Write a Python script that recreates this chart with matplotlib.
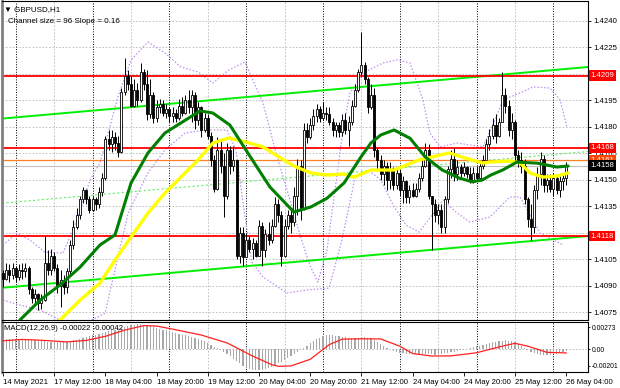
import matplotlib
matplotlib.use("Agg")
import matplotlib.pyplot as plt
import matplotlib.transforms as mtransforms
import numpy as np

# ---------------- data (GBPUSD H1) ----------------
first_open = 1.4097
close = [1.4094, 1.4099, 1.4096, 1.4100, 1.4095, 1.4099, 1.4098, 1.4100, 1.4088, 1.4083,
         1.4085, 1.4080, 1.4082, 1.4103, 1.4099, 1.4107, 1.4100, 1.4090, 1.4093, 1.4089,
         1.4098, 1.4113, 1.4123, 1.4130, 1.4139, 1.4144, 1.4139, 1.4133, 1.4139, 1.4136,
         1.4143, 1.4151, 1.4173, 1.4170, 1.4174, 1.4171, 1.4166, 1.4200, 1.4209, 1.4204,
         1.4192, 1.4201, 1.4195, 1.4211, 1.4204, 1.4187, 1.4198, 1.4185, 1.4191, 1.4193,
         1.4188, 1.4190, 1.4186, 1.4188, 1.4185, 1.4192, 1.4188, 1.4195, 1.4191, 1.4198,
         1.4184, 1.4191, 1.4178, 1.4185, 1.4175, 1.4161, 1.4145, 1.4167, 1.4158, 1.4141,
         1.4167, 1.4158, 1.4161, 1.4107, 1.4120, 1.4106, 1.4116, 1.4111, 1.4114, 1.4107,
         1.4124, 1.4110, 1.4119, 1.4116, 1.4124, 1.4136, 1.4130, 1.4107, 1.4124, 1.4130,
         1.4126, 1.4141, 1.4158, 1.4134, 1.4178, 1.4174, 1.4181, 1.4186, 1.4190, 1.4185,
         1.4188, 1.4187, 1.4183, 1.4178, 1.4181, 1.4177, 1.4184, 1.4178, 1.4183, 1.4192,
         1.4201, 1.4211, 1.4215, 1.4207, 1.4191, 1.4198, 1.4167, 1.4161, 1.4153, 1.4158,
         1.4150, 1.4156, 1.4147, 1.4154, 1.4144, 1.4149, 1.4140, 1.4144, 1.4141, 1.4145,
         1.4151, 1.4158, 1.4167, 1.4141, 1.4136, 1.4130, 1.4133, 1.4123, 1.4139, 1.4156,
         1.4162, 1.4153, 1.4157, 1.4154, 1.4157, 1.4153, 1.4150, 1.4154, 1.4151, 1.4158,
         1.4161, 1.4170, 1.4175, 1.4181, 1.4175, 1.4183, 1.4198, 1.4192, 1.4178, 1.4183,
         1.4164, 1.4161, 1.4158, 1.4139, 1.4128, 1.4123, 1.4144, 1.4153, 1.4162, 1.4147,
         1.4150, 1.4145, 1.4151, 1.4144, 1.4149, 1.4151, 1.4158]
high = [1.4099, 1.4103, 1.4102, 1.4103, 1.4101, 1.4102, 1.4103, 1.4103, 1.4101, 1.4089,
        1.4088, 1.4086, 1.4085, 1.4118, 1.4110, 1.4111, 1.4109, 1.4102, 1.4099, 1.4096,
        1.4100, 1.4116, 1.4127, 1.4134, 1.4141, 1.4146, 1.4145, 1.4141, 1.4141, 1.4140,
        1.4146, 1.4154, 1.4175, 1.4178, 1.4178, 1.4177, 1.4175, 1.4202, 1.4219, 1.4212,
        1.4209, 1.4207, 1.4205, 1.4216, 1.4213, 1.4212, 1.4207, 1.4200, 1.4195, 1.4196,
        1.4195, 1.4193, 1.4191, 1.4191, 1.4190, 1.4196, 1.4197, 1.4198, 1.4201, 1.4201,
        1.4200, 1.4194, 1.4192, 1.4188, 1.4187, 1.4177, 1.4164, 1.4174, 1.4173, 1.4165,
        1.4171, 1.4169, 1.4169, 1.4160, 1.4123, 1.4123, 1.4120, 1.4118, 1.4117, 1.4116,
        1.4127, 1.4126, 1.4122, 1.4126, 1.4128, 1.4140, 1.4139, 1.4132, 1.4128, 1.4133,
        1.4133, 1.4146, 1.4162, 1.4161, 1.4182, 1.4182, 1.4185, 1.4190, 1.4193, 1.4192,
        1.4194, 1.4191, 1.4191, 1.4185, 1.4183, 1.4183, 1.4187, 1.4188, 1.4186, 1.4195,
        1.4204, 1.4213, 1.4234, 1.4217, 1.4208, 1.4204, 1.4202, 1.4168, 1.4164, 1.4161,
        1.4160, 1.4160, 1.4157, 1.4157, 1.4156, 1.4152, 1.4150, 1.4147, 1.4148, 1.4148,
        1.4154, 1.4161, 1.4171, 1.4170, 1.4141, 1.4139, 1.4136, 1.4136, 1.4141, 1.4158,
        1.4167, 1.4168, 1.4161, 1.4159, 1.4160, 1.4158, 1.4157, 1.4157, 1.4158, 1.4160,
        1.4164, 1.4173, 1.4179, 1.4185, 1.4187, 1.4185, 1.4211, 1.4202, 1.4195, 1.4188,
        1.4184, 1.4167, 1.4166, 1.4162, 1.4140, 1.4136, 1.4147, 1.4157, 1.4166, 1.4164,
        1.4153, 1.4153, 1.4154, 1.4152, 1.4152, 1.4154, 1.4160]
low = [1.4089, 1.4093, 1.4092, 1.4094, 1.4092, 1.4093, 1.4094, 1.4095, 1.4085, 1.4080,
       1.4079, 1.4076, 1.4077, 1.4081, 1.4096, 1.4096, 1.4098, 1.4086, 1.4078, 1.4085,
       1.4086, 1.4096, 1.4111, 1.4122, 1.4128, 1.4137, 1.4136, 1.4131, 1.4132, 1.4133,
       1.4134, 1.4141, 1.4150, 1.4167, 1.4166, 1.4167, 1.4163, 1.4165, 1.4198, 1.4201,
       1.4191, 1.4191, 1.4192, 1.4194, 1.4201, 1.4184, 1.4185, 1.4182, 1.4183, 1.4188,
       1.4186, 1.4185, 1.4183, 1.4183, 1.4183, 1.4184, 1.4186, 1.4187, 1.4188, 1.4183,
       1.4179, 1.4181, 1.4174, 1.4177, 1.4173, 1.4158, 1.4143, 1.4144, 1.4154, 1.4129,
       1.4139, 1.4153, 1.4155, 1.4105, 1.4103, 1.4101, 1.4107, 1.4109, 1.4105, 1.4106,
       1.4107, 1.4101, 1.4106, 1.4113, 1.4114, 1.4123, 1.4126, 1.4101, 1.4106, 1.4122,
       1.4120, 1.4124, 1.4130, 1.4127, 1.4133, 1.4171, 1.4173, 1.4178, 1.4183, 1.4183,
       1.4184, 1.4184, 1.4181, 1.4175, 1.4174, 1.4174, 1.4175, 1.4176, 1.4169, 1.4181,
       1.4191, 1.4200, 1.4208, 1.4204, 1.4188, 1.4190, 1.4163, 1.4156, 1.4150, 1.4147,
       1.4144, 1.4145, 1.4144, 1.4145, 1.4141, 1.4137, 1.4137, 1.4137, 1.4140, 1.4140,
       1.4143, 1.4149, 1.4157, 1.4139, 1.4110, 1.4126, 1.4125, 1.4120, 1.4120, 1.4137,
       1.4151, 1.4149, 1.4150, 1.4151, 1.4152, 1.4151, 1.4148, 1.4148, 1.4150, 1.4150,
       1.4156, 1.4160, 1.4167, 1.4173, 1.4171, 1.4174, 1.4183, 1.4188, 1.4175, 1.4173,
       1.4160, 1.4157, 1.4154, 1.4136, 1.4123, 1.4116, 1.4120, 1.4139, 1.4147, 1.4143,
       1.4143, 1.4143, 1.4141, 1.4142, 1.4140, 1.4144, 1.4147]

# moving averages (bar index, price)
ma_green_bar = [5.3, 11.6, 17.8, 24.1, 30.3, 35.0, 40.0, 45.3, 50.6, 55.6, 61.6, 65.6, 70.9,
                75.9, 83.4, 90.9, 96.25, 101.25, 106.6, 111.9, 115.0, 118.1, 122.2, 127.2,
                131.9, 137.2, 142.5, 146.6, 149.7, 152.5, 156.25, 160.6, 166.9, 173.1, 176.6]
ma_green = [1.40705, 1.40818, 1.40903, 1.41005, 1.41130, 1.41187, 1.41481, 1.41652, 1.41765,
            1.41822, 1.41890, 1.41878, 1.41810, 1.41669, 1.41459, 1.41317, 1.41346, 1.41395,
            1.41482, 1.41630, 1.41709, 1.41754, 1.41782, 1.41735, 1.41630, 1.41556, 1.41510,
            1.41488, 1.41498, 1.41527, 1.41556, 1.41600, 1.41594, 1.41572, 1.41578]
ma_yellow_bar = [17.8, 24.1, 30.3, 35.0, 40.0, 45.3, 50.6, 55.6, 60.9, 65.6, 70.6, 75.9, 81.25,
                 86.25, 90.9, 96.25, 101.25, 106.6, 109.7, 115.0, 122.2, 130.0, 134.1, 139.4,
                 144.4, 149.7, 152.2, 158.4, 161.6, 164.7, 168.75, 173.1, 176.6]
ma_yellow = [1.40705, 1.40818, 1.40914, 1.41045, 1.41175, 1.41311, 1.41425, 1.41515, 1.41612,
             1.41708, 1.41737, 1.41714, 1.41686, 1.41629, 1.41578, 1.41538, 1.41527, 1.41532,
             1.41515, 1.41555, 1.41555, 1.41612, 1.41629, 1.41652, 1.41623, 1.41595, 1.41600,
             1.41606, 1.41595, 1.41538, 1.41515, 1.41521, 1.41538]

# dotted violet bands (bar index, price)
band_up_bar = [0.0, 4.4, 8.4, 13.1, 18.75, 23.1, 27.2, 30.3, 35.9, 40.0, 45.3, 50.6, 55.6,
               60.9, 65.6, 70.6, 75.6, 81.25, 85.3, 89.4, 92.8, 95.9, 98.4, 101.25, 103.75,
               106.25, 108.4, 112.5, 118.75, 123.1, 127.2, 131.25, 133.4, 136.6, 141.9,
               150.0, 153.75, 156.25, 161.6, 165.6, 170.9, 174.1, 176.25]
band_up = [1.41130, 1.41198, 1.41158, 1.41090, 1.41084, 1.41272, 1.41498, 1.41595, 1.41969,
           1.42179, 1.42281, 1.42218, 1.42139, 1.42111, 1.42048, 1.42122, 1.42167, 1.41935,
           1.41652, 1.41402, 1.41187, 1.41016, 1.40920, 1.41102, 1.41442, 1.41782, 1.41992,
           1.42105, 1.42162, 1.42179, 1.42162, 1.41952, 1.41765, 1.41686, 1.41708, 1.41686,
           1.41839, 1.41952, 1.41992, 1.42026, 1.42020, 1.41952, 1.41799]
band_dn_bar = [0.0, 5.3, 11.6, 17.8, 24.1, 31.9, 39.1, 45.3, 50.6, 56.9, 63.75, 70.0, 72.8,
               75.3, 77.8, 81.25, 88.75, 95.0, 101.9, 105.9, 110.0, 114.1, 118.1, 121.9,
               125.9, 130.0, 134.1, 137.5, 141.9, 145.9, 152.2, 158.4, 161.6, 167.8, 175.0]
band_dn = [1.40818, 1.40790, 1.40761, 1.40705, 1.40671, 1.40744, 1.41311, 1.41538, 1.41669,
           1.41765, 1.41782, 1.41782, 1.41669, 1.41328, 1.41033, 1.40948, 1.40858, 1.40875,
           1.40886, 1.41158, 1.41510, 1.41555, 1.41498, 1.41357, 1.41243, 1.41203, 1.41300,
           1.41385, 1.41311, 1.41260, 1.41289, 1.41402, 1.41402, 1.41198, 1.41130]

# channel (equidistant) anchors
chan_bar = [0, 176]
chan_upper = [1.41847, 1.42128]
chan_lower = [1.40888, 1.41170]

# horizontal levels
red_levels = [1.4209, 1.4168, 1.4118]
orange_level = 1.4161
bid_level = 1.4158

# MACD(12,26,9) main values in points (1e-5)
macd_pts = [120, 122, 124, 125, 125, 124, 122, 120, 117, 113, 110, 106, 102,
            98, 95, 92, 90, 88, 88, 90,
            95, 102, 110, 120, 130, 140, 150, 160, 170, 180, 190,
            200, 212, 222, 232, 240, 250, 262, 275, 285, 295, 302, 308,
            305, 300, 292, 283, 272, 262, 252, 242,
            232, 222, 212, 202, 192, 182, 172, 162, 152, 140, 128, 116,
            100, 80, 58, 35, 15, -5,
            -30, -55, -80, -110, -140, -170, -195, -215, -232, -245,
            -250, -250, -245, -235, -222, -208,
            -190, -170, -150, -128, -105, -82, -58, -35, -12,
            15, 45, 75, 100, 125, 145, 160, 170,
            172, 170, 165, 160, 155, 150, 145, 140, 140, 142, 148, 150, 145, 135,
            115, 90, 65, 40, 20, 0, -15, -28, -38,
            -45, -50, -55, -58, -60, -60, -58, -55, -55, -60, -62, -60, -55, -48, -40, -30,
            -25, -18, -10, -2, 8, 18, 28, 38, 48, 58,
            68, 78, 88, 96, 102, 108, 110, 108, 100, 85,
            65, 42, 18, -5, -28, -45, -58,
            -66, -70, -70, -66, -60, -52, -42, -32, -22]
signal_bar = [0, 6, 12, 20, 26, 32, 38, 44, 48, 54, 62, 70, 78, 84, 86, 90, 96, 102, 106,
              112, 118, 124, 128, 134, 140, 148, 156, 160, 164, 170, 176]
signal_pts = [105, 122, 112, 92, 110, 160, 235, 290, 285, 240, 175, 80, -80, -185, -205,
              -200, -120, 60, 125, 130, 128, 40, -50, -80, -78, -40, 40, 75, 40, -35, -42]

time_bar = [0, 16, 32, 48, 64, 80, 96, 112, 128, 144, 160, 176]
time_lbl = ['14 May 2021', '17 May 12:00', '18 May 04:00', '18 May 20:00', '19 May 12:00',
            '20 May 04:00', '20 May 20:00', '21 May 12:00', '24 May 04:00', '24 May 20:00',
            '25 May 12:00', '26 May 04:00']
midnight_bar = [4, 28, 52, 76, 100, 124, 148, 172]
noon_bar = [16, 40, 64, 88, 112, 136, 160]
price_ticks = [1.4075, 1.4090, 1.4105, 1.4135, 1.4150, 1.4165, 1.4180, 1.4195, 1.4225, 1.4240]
grid_levels = [1.4075, 1.4090, 1.4105, 1.4120, 1.4135, 1.4150, 1.4165, 1.4180, 1.4195,
               1.4210, 1.4225, 1.4240]

# ---------------- figure ----------------
W, H = 620, 388
FONT = ['Liberation Sans', 'DejaVu Sans']
plt.rcParams['font.family'] = FONT
fig = plt.figure(figsize=(W / 100, H / 100), dpi=100)
ax = fig.add_axes([2 / W, (H - 320) / H, 586 / W, 319 / H])
ax2 = fig.add_axes([2 / W, (H - 372) / H, 586 / W, 50 / H])

x0, x1 = -1 / 3.2, 585 / 3.2
for a in (ax, ax2):
    a.set_xlim(x0, x1)
    a.set_facecolor('white')
    for s in a.spines.values():
        s.set_color('black')
        s.set_linewidth(0.8)
    a.spines['left'].set_color('#808080')
    a.spines['left'].set_linewidth(2)
ax.set_ylim(1.40705, 1.42513)
ax2.set_ylim(-0.00274, 0.00334)

# grid
for lv in grid_levels:
    ax.axhline(lv, color='#b8b8b8', lw=0.6, dashes=(2, 2), zorder=0)
for a in (ax, ax2):
    for b in noon_bar:
        a.axvline(b, color='#b8b8b8', lw=0.6, dashes=(2, 2), zorder=0)
    for b in midnight_bar:
        a.axvline(b, color='black', lw=0.7, dashes=(1, 1.6), zorder=0.5)

# candles
n = len(close)
xb = np.arange(n)
c = np.array(close)
o = np.array([first_open] + close[:-1])
hi = np.maximum(np.array(high), np.maximum(o, c))
lo = np.minimum(np.array(low), np.minimum(o, c))
up = c >= o
body = np.maximum(np.abs(c - o), 0.00004)
ax.vlines(xb, lo, hi, color='black', lw=0.7, zorder=3)
ax.bar(xb[up], body[up], bottom=o[up], width=0.62, color='white', edgecolor='black',
       linewidth=0.6, zorder=4)
ax.bar(xb[~up], body[~up], bottom=c[~up], width=0.62, color='black', edgecolor='black',
       linewidth=0.6, zorder=4)

# bands, MAs
ax.plot(band_up_bar, band_up, color='#bf8fef', lw=0.9, dashes=(1.2, 1.5), zorder=2)
ax.plot(band_dn_bar, band_dn, color='#bf8fef', lw=0.9, dashes=(1.2, 1.5), zorder=2)
ax.plot(ma_yellow_bar, ma_yellow, color='#ffff00', lw=2.4, zorder=5, solid_capstyle='round')
ax.plot(ma_green_bar, ma_green, color='#008000', lw=2.2, zorder=6, solid_capstyle='round')

# channel
ax.axline((chan_bar[0], chan_upper[0]), (chan_bar[1], chan_upper[1]), color='#00ee00', lw=1.4, zorder=2)
ax.axline((chan_bar[0], chan_lower[0]), (chan_bar[1], chan_lower[1]), color='#00ee00', lw=1.4, zorder=2)
mid0 = (chan_upper[0] + chan_lower[0]) / 2
mid1 = (chan_upper[1] + chan_lower[1]) / 2
ax.axline((chan_bar[0], mid0), (chan_bar[1], mid1), color='#66ee66', lw=0.8, dashes=(2, 2), zorder=2)

# levels
for lv in red_levels:
    ax.axhline(lv, color='#ff0000', lw=1.3, zorder=2.5)
ax.axhline(orange_level, color='#ff7f27', lw=0.9, zorder=2.5)
ax.axhline(bid_level, color='#c0c0c0', lw=0.8, zorder=2.5)

# right price axis
ax.yaxis.tick_right()
ax.set_yticks(price_ticks)
ax.set_yticklabels(['%.4f' % p for p in price_ticks])
ax.tick_params(axis='y', length=2, width=0.6, labelsize=5.6, pad=2)
ax.tick_params(axis='x', bottom=False, labelbottom=False)

trans = mtransforms.blended_transform_factory(ax.transAxes, ax.transData)
def tag(val, fc, z):
    ax.text(1.004, val, '%.4f' % val, transform=trans, fontsize=5.6, color='white',
            va='center', ha='left', zorder=z, clip_on=False,
            bbox=dict(boxstyle='square,pad=0.22', fc=fc, ec=fc, lw=0))
for lv in red_levels:
    tag(lv, '#ff0000', 10)
tag(orange_level, '#ff4500', 11)
tag(bid_level, '#000000', 12)

# header texts
ax.text(0.004, 0.985, '\u25bc GBPUSD,H1', transform=ax.transAxes, fontsize=5.8,
        va='top', ha='left', zorder=20)
ax.text(0.011, 0.948, 'Channel size = 96 Slope = 0.16', transform=ax.transAxes,
        fontsize=5.8, va='top', ha='left', zorder=20)

# MACD panel
macd = np.array(macd_pts) * 1e-5
ax2.bar(xb, macd, width=0.4, color='#a8a8a8', zorder=2)
ax2.plot(signal_bar, np.array(signal_pts) * 1e-5, color='#ff2020', lw=0.9, zorder=3)
ax2.axhline(0, color='#b8b8b8', lw=0.6, dashes=(2, 2), zorder=0)
ax2.yaxis.tick_right()
ax2.set_yticks([0.00273, 0.0, -0.00201])
ax2.set_yticklabels(['0.00273', '0.00', '-0.00201'])
ax2.tick_params(axis='y', length=1.5, width=0.6, labelsize=4.9, pad=1)
ax2.text(0.004, 0.93, 'MACD(12,26,9) -0.00022 -0.00042', transform=ax2.transAxes,
         fontsize=5.6, va='top', ha='left', zorder=20)

ax2.set_xticks(time_bar)
ax2.set_xticklabels(time_lbl)
ax2.tick_params(axis='x', length=3, width=0.6, labelsize=5.6, pad=2)
for t in ax2.get_xticklabels():
    t.set_ha('left')

fig.savefig('out.png', dpi=100, facecolor='white')
